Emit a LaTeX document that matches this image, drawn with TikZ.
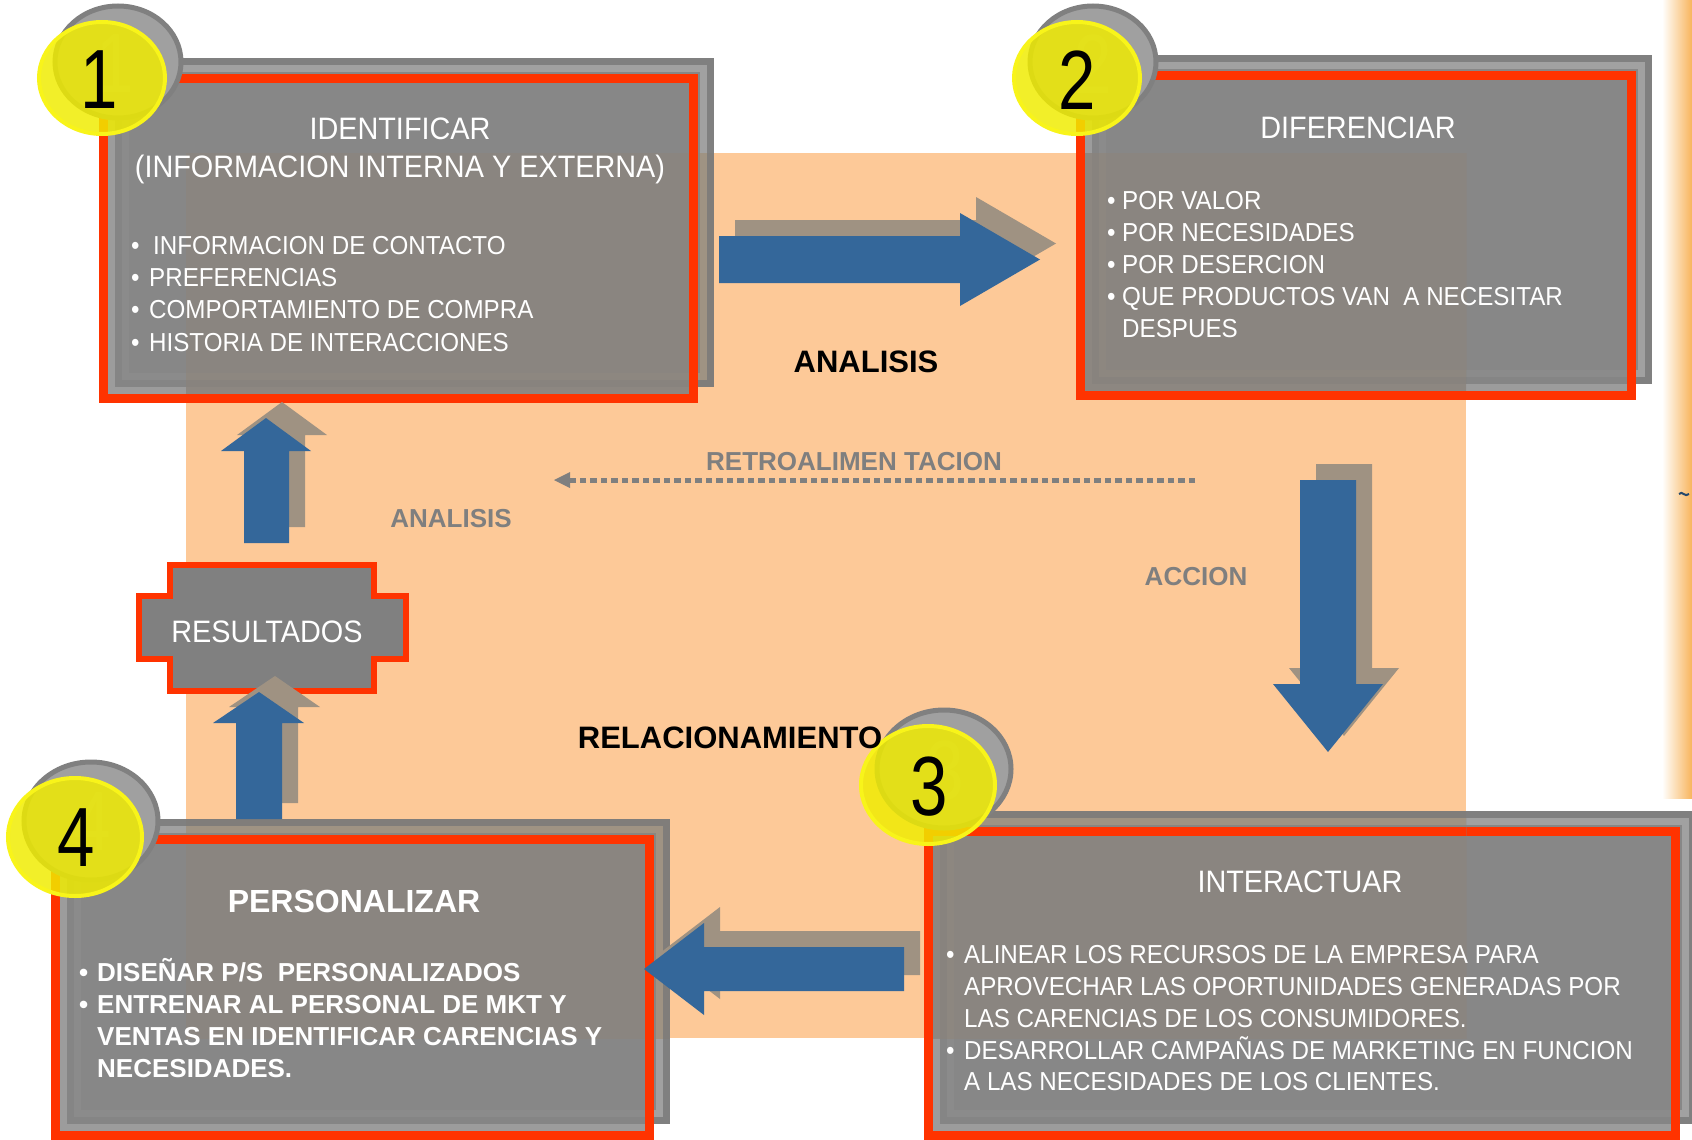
\documentclass[tikz,border=0pt]{standalone}
\usepackage{fontspec}
\setmainfont{Liberation Sans}
\newfontfamily\boxfont[FakeStretch=0.93]{Liberation Sans}
\newfontfamily\digitfont[FakeStretch=0.8]{Liberation Sans}
\definecolor{bgorange}{HTML}{FDC998}
\definecolor{pred}{HTML}{FF3300}
\definecolor{arrowblue}{HTML}{34679A}
\definecolor{shadowbrown}{HTML}{9F9282}
\definecolor{labgrey}{HTML}{7F7F7F}
\definecolor{discfill}{HTML}{A0A0A0}
\definecolor{discedge}{HTML}{808080}
\definecolor{badgeyellow}{HTML}{F0EC00}
\definecolor{badgering}{HTML}{F8F41A}
\definecolor{stripor}{HTML}{F8B45C}
\definecolor{resfill}{HTML}{808080}
\colorlet{pdark}{black!50}
\colorlet{plight}{black!37}
\colorlet{pfill}{black!47}
\newcommand\drawpanel[4]{%
  \fill[pdark] (#1+16,#2-16) rectangle (#3+16,#4-16);
  \fill[plight] (#1+23,#2-9) rectangle (#3+9,#4-23);
  \fill[pfill] (#1+30,#2-2) rectangle (#3+2,#4-30);
  \draw[pred, line width=9pt] (#1+4.5,#2+4.5) rectangle (#3-4.5,#4-4.5);
  \fill[pfill, fill opacity=0.82] (#1+9,#2+9) rectangle (#3-9,#4-9);
}
\newcommand\bul[1]{\makebox[#1][l]{•}}
\tikzset{
  boxtitle/.style={font=\boxfont\fontsize{31}{37}\selectfont, text=white, inner sep=0pt, anchor=base},
  boxitem/.style={font=\boxfont\fontsize{26}{32}\selectfont, text=white, inner sep=0pt, anchor=base west},
  ptitle/.style={font=\bfseries\fontsize{32}{38}\selectfont, text=white, inner sep=0pt, anchor=base},
  pitem/.style={font=\bfseries\fontsize{26}{32}\selectfont, text=white, inner sep=0pt, anchor=base west},
  blacklab/.style={font=\bfseries\fontsize{31}{37}\selectfont, text=black, inner sep=0pt, anchor=base},
  greylab/.style={font=\bfseries\fontsize{26}{31}\selectfont, text=labgrey, inner sep=0pt, anchor=base},
  digit/.style={font=\digitfont\fontsize{84}{90}\selectfont, inner sep=0pt, text=black},
  ghostdigit/.style={font=\digitfont\fontsize{84}{90}\selectfont, inner sep=0pt, text=black!33},
  blockarrow/.style={fill=arrowblue},
  arrowshadow/.style={fill=shadowbrown},
  disc/.style={fill=discfill, draw=discedge, line width=5pt},
  badge/.style={fill=badgeyellow, fill opacity=0.84, draw=badgering, line width=4pt},
}
\begin{document}
\begin{tikzpicture}[x=1pt, y=-1pt]
\useasboundingbox (0,0) rectangle (1692,1140);
\fill[white] (0,0) rectangle (1692,1140);
% right edge strip
\shade[left color=white, right color=stripor] (1662,0) rectangle (1692,798);
\draw[arrowblue!70!black, line width=2pt] (1679,494) .. controls (1682,490) and (1685,498) .. (1689,494);
% orange background
\fill[bgorange] (186,153) rectangle (1466,1038);
% panels
\drawpanel{99}{74}{698}{403}
\drawpanel{1076}{71}{1636}{400}
\drawpanel{924}{827}{1680}{1140}
\drawpanel{51}{835}{654}{1140}
\begin{scope}
  \clip (186,153) rectangle (1466,1038);
  \definecolor{pdark}{HTML}{807D7A}
  \definecolor{plight}{HTML}{9F9383}
  \definecolor{pfill}{HTML}{8A8580}
  \drawpanel{99}{74}{698}{403}
  \drawpanel{1076}{71}{1636}{400}
  \drawpanel{924}{827}{1680}{1140}
  \drawpanel{51}{835}{654}{1140}
\end{scope}
% RESULTADOS shape
\filldraw[fill=resfill, draw=pred, line width=6pt]
  (170,565) -- (374,565) -- (374,596) -- (406,596) -- (406,659) -- (374,659)
  -- (374,691) -- (170,691) -- (170,659) -- (139,659) -- (139,596) -- (170,596) -- cycle;
% block arrows: shadows
\begin{scope}[shift={(16,-16)}]
  \fill[arrowshadow] (719,236) -- (960,236) -- (960,213) -- (1040,259.5) -- (960,306) -- (960,283) -- (719,283) -- cycle;
  \fill[arrowshadow] (1300,480) -- (1356,480) -- (1356,684) -- (1383,684) -- (1328,752) -- (1273,684) -- (1300,684) -- cycle;
  \fill[arrowshadow] (244,543) -- (244,451) -- (221,451) -- (266,418) -- (311,451) -- (289,451) -- (289,543) -- cycle;
  \fill[arrowshadow] (236,819) -- (236,723) -- (213,723) -- (259,692) -- (304,723) -- (282,723) -- (282,819) -- cycle;
  \fill[arrowshadow] (904,947) -- (704,947) -- (704,923) -- (644,969) -- (704,1015) -- (704,991) -- (904,991) -- cycle;
\end{scope}
% block arrows: blue
\fill[blockarrow] (719,236) -- (960,236) -- (960,213) -- (1040,259.5) -- (960,306) -- (960,283) -- (719,283) -- cycle;
\fill[blockarrow] (1300,480) -- (1356,480) -- (1356,684) -- (1383,684) -- (1328,752) -- (1273,684) -- (1300,684) -- cycle;
\fill[blockarrow] (244,543) -- (244,451) -- (221,451) -- (266,418) -- (311,451) -- (289,451) -- (289,543) -- cycle;
\fill[blockarrow] (236,819) -- (236,723) -- (213,723) -- (259,692) -- (304,723) -- (282,723) -- (282,819) -- cycle;
\fill[blockarrow] (904,947) -- (704,947) -- (704,923) -- (644,969) -- (704,1015) -- (704,991) -- (904,991) -- cycle;
% feedback dotted arrow
\coordinate (fbStart) at (1195,480);
\coordinate (fbEnd) at (568,480);
\draw[labgrey, line width=5pt, dash pattern=on 6.5pt off 4pt] (fbStart) -- (fbEnd);
\fill[labgrey] (570,472) -- (554,480) -- (570,488) -- cycle;
% badges
\filldraw[disc] (118,62) ellipse [x radius=63pt, y radius=56pt];
\filldraw[disc] (1093,62) ellipse [x radius=63pt, y radius=56pt];
\filldraw[disc] (944,769) ellipse [x radius=67pt, y radius=59pt];
\filldraw[disc] (91,821) ellipse [x radius=67pt, y radius=59pt];
\node[ghostdigit] (g1) at (115,64) {1};
\node[ghostdigit] (g2) at (1093,64) {2};
\node[ghostdigit] (g3) at (945,771) {3};
\node[ghostdigit] (g4) at (92,822) {4};
\filldraw[badge] (102,78) ellipse [x radius=63pt, y radius=56pt];
\filldraw[badge] (1077,78) ellipse [x radius=63pt, y radius=56pt];
\filldraw[badge] (928,785) ellipse [x radius=67pt, y radius=59pt];
\filldraw[badge] (75,837) ellipse [x radius=67pt, y radius=59pt];
\node[digit] (d1) at (99,80) {1};
\node[digit] (d2) at (1077,80) {2};
\node[digit] (d3) at (929,787) {3};
\node[digit] (d4) at (76,838) {4};
% box 1 text
\node[boxtitle] (t1a) at (400,139) {IDENTIFICAR};
\node[boxtitle] (t1b) at (400,177) {(INFORMACION INTERNA Y EXTERNA)};
\node[boxitem] (i1a) at (131,254) {\bul{18pt}\hspace{4pt}INFORMACION DE CONTACTO};
\node[boxitem] (i1b) at (131,286) {\bul{18pt}PREFERENCIAS};
\node[boxitem] (i1c) at (131,318) {\bul{18pt}COMPORTAMIENTO DE COMPRA};
\node[boxitem] (i1d) at (131,351) {\bul{18pt}HISTORIA DE INTERACCIONES};
% box 2 text
\node[boxtitle] (t2) at (1358,138) {DIFERENCIAR};
\node[boxitem] (i2a) at (1107,209) {\bul{15pt}POR VALOR};
\node[boxitem] (i2b) at (1107,241) {\bul{15pt}POR NECESIDADES};
\node[boxitem] (i2c) at (1107,273) {\bul{15pt}POR DESERCION};
\node[boxitem] (i2d) at (1107,305) {\bul{15pt}QUE PRODUCTOS VAN\ \ A NECESITAR};
\node[boxitem] (i2e) at (1122,337) {DESPUES};
% box 3 text
\node[boxtitle] (t3) at (1300,892) {INTERACTUAR};
\node[boxitem] (i3a) at (946,963) {\bul{18pt}ALINEAR LOS RECURSOS DE LA EMPRESA PARA};
\node[boxitem] (i3b) at (964,995) {APROVECHAR LAS OPORTUNIDADES GENERADAS POR};
\node[boxitem] (i3c) at (964,1027) {LAS CARENCIAS DE LOS CONSUMIDORES.};
\node[boxitem] (i3d) at (946,1059) {\bul{18pt}DESARROLLAR CAMPAÑAS DE MARKETING EN FUNCION};
\node[boxitem] (i3e) at (964,1090) {A LAS NECESIDADES DE LOS CLIENTES.};
% box 4 text
\node[ptitle] (t4) at (354,912) {PERSONALIZAR};
\node[pitem] (i4a) at (79,981) {\bul{18pt}DISEÑAR P/S\ \ PERSONALIZADOS};
\node[pitem] (i4b) at (79,1013) {\bul{18pt}ENTRENAR AL PERSONAL DE MKT Y};
\node[pitem] (i4c) at (97,1045) {VENTAS EN IDENTIFICAR CARENCIAS Y};
\node[pitem] (i4d) at (97,1077) {NECESIDADES.};
% resultados
\node[boxtitle] (res) at (267,642) {RESULTADOS};
% labels
\node[blacklab] (lanal1) at (866,372) {ANALISIS};
\node[blacklab] (lrel) at (730,748) {RELACIONAMIENTO};
\node[greylab] (lretro) at (854,470) {RETROALIMEN TACION};
\node[greylab] (lacc) at (1196,585) {ACCION};
\node[greylab] (lanal2) at (451,527) {ANALISIS};
\end{tikzpicture}
\end{document}
